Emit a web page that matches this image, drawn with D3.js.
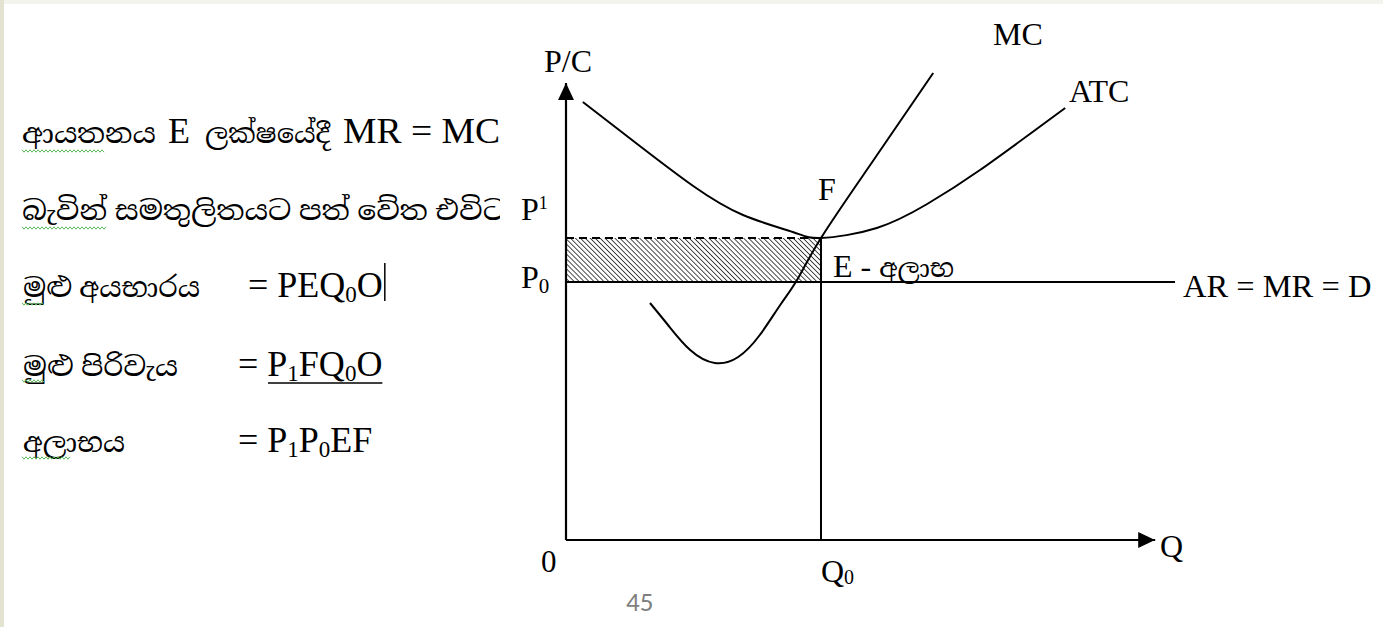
<!DOCTYPE html>
<html>
<head>
<meta charset="utf-8">
<script src="https://cdn.jsdelivr.net/npm/d3@7"></script>
<style>
  body { margin: 0; background: #fff; }
  text { font-family: "Liberation Serif", "Times New Roman", "Noto Serif Sinhala", "Noto Sans Sinhala", "Noto Sans", serif; fill: #000; }
</style>
</head>
<body>
<div id="chart"></div>
<script>
var svgWidth = 1383;
var svgHeight = 627;

// cost curves (Q units, price units)
var atcQ = [2.8, 12.3, 21.2, 29.5, 37.8, 42.5, 51.8, 60.2, 69, 83.2];
var atcC = [87.6, 78.8, 70.8, 65, 61.6, 60.4, 62.4, 67.2, 74, 86.4];
var mcQ = [14, 17, 20.7, 24.8, 28.7, 32.3, 35.7, 38.5, 42.5, 50.7, 61.2];
var mcC = [47.4, 43, 38, 35.4, 36.6, 41, 47, 52, 60.4, 75, 93.4];

var q0 = 42.5;
var p0 = 51.6;
var p1 = 60.4;
var arEnd = 101.5;

var leftLabels = ["ආයතනය", "බැවින් සමතුලිතයට පත් වේත එවිට", "මුළු අයභාරය", "මුළු පිරිවැය", "අලාභය"];

var x = d3.scaleLinear().domain([0, 100]).range([566, 1166]);
var y = d3.scaleLinear().domain([0, 100]).range([540, 40]);

var svg = d3.select("#chart")
  .append("svg")
  .attr("width", svgWidth)
  .attr("height", svgHeight);

var defs = svg.append("defs");

var hatch = defs.append("pattern")
  .attr("id", "hatch")
  .attr("patternUnits", "userSpaceOnUse")
  .attr("width", 3.5)
  .attr("height", 3.5)
  .attr("patternTransform", "rotate(-45)");
hatch.append("line")
  .attr("x1", 0).attr("y1", 0)
  .attr("x2", 0).attr("y2", 3.5)
  .attr("stroke", "#000")
  .attr("stroke-width", 1.4);

defs.append("clipPath").attr("id", "leftclip")
  .append("rect").attr("x", 0).attr("y", 0).attr("width", 500).attr("height", svgHeight);

defs.append("marker")
  .attr("id", "arrow")
  .attr("viewBox", "0 0 10 10")
  .attr("refX", 10).attr("refY", 5)
  .attr("markerWidth", 17).attr("markerHeight", 16)
  .attr("markerUnits", "userSpaceOnUse")
  .attr("orient", "auto")
  .attr("preserveAspectRatio", "none")
  .append("path")
  .attr("d", "M0,0L10,5L0,10Z")
  .attr("fill", "#000");

// slide frame bits
svg.append("rect").attr("x", 0).attr("y", 0).attr("width", svgWidth).attr("height", 4).attr("fill", "#f4f4ef");
svg.append("rect").attr("x", 0).attr("y", 0).attr("width", 4).attr("height", svgHeight).attr("fill", "#e3e3d2");

// hatched loss area
svg.append("rect")
  .attr("x", x(0))
  .attr("y", y(p1))
  .attr("width", x(q0) - x(0))
  .attr("height", y(p0) - y(p1))
  .attr("fill", "url(#hatch)");

// dashed top of loss rectangle
svg.append("line")
  .attr("x1", x(0)).attr("x2", x(q0))
  .attr("y1", y(p1)).attr("y2", y(p1))
  .attr("stroke", "#000").attr("stroke-width", 2)
  .attr("stroke-dasharray", "8,5");

// AR = MR = D
svg.append("line")
  .attr("x1", x(0)).attr("x2", x(arEnd))
  .attr("y1", y(p0)).attr("y2", y(p0))
  .attr("stroke", "#000").attr("stroke-width", 2);

// Q0 drop line
svg.append("line")
  .attr("x1", x(q0)).attr("x2", x(q0))
  .attr("y1", y(p1)).attr("y2", y(0))
  .attr("stroke", "#000").attr("stroke-width", 2);

// axes
svg.append("line")
  .attr("x1", x(0)).attr("x2", x(0))
  .attr("y1", y(0)).attr("y2", y(91.4))
  .attr("stroke", "#000").attr("stroke-width", 2.2)
  .attr("marker-end", "url(#arrow)");
svg.append("line")
  .attr("x1", x(0)).attr("x2", x(98.2))
  .attr("y1", y(0)).attr("y2", y(0))
  .attr("stroke", "#000").attr("stroke-width", 2.2)
  .attr("marker-end", "url(#arrow)");

var line = d3.line()
  .x(d => x(d[0]))
  .y(d => y(d[1]))
  .curve(d3.curveNatural);

svg.append("path")
  .datum(d3.zip(atcQ, atcC))
  .attr("d", line)
  .attr("fill", "none")
  .attr("stroke", "#000")
  .attr("stroke-width", 2);

svg.append("path")
  .datum(d3.zip(mcQ, mcC))
  .attr("d", line)
  .attr("fill", "none")
  .attr("stroke", "#000")
  .attr("stroke-width", 2);

// chart labels
function label(txt, px, py, size) {
  return svg.append("text")
    .attr("x", px).attr("y", py)
    .attr("font-size", size)
    .text(txt);
}
label("P/C", 544, 72, 32);
label("MC", 993, 45, 32);
label("ATC", 1069, 102, 32);
label("F", 818, 200, 32);
var eLbl = svg.append("text").attr("x", 833).attr("y", 277).attr("font-size", 32);
eLbl.append("tspan").text("E - ");
eLbl.append("tspan").attr("font-size", 26).text("අලාභ");
label("AR = MR = D", 1183, 297, 32.5);
label("Q", 1160, 557, 32);
label("0", 541, 572, 31);

var pOne = svg.append("text").attr("x", 521).attr("y", 220).attr("font-size", 32);
pOne.append("tspan").text("P");
pOne.append("tspan").attr("font-size", 18).attr("dy", -11).text("1");

var pZero = svg.append("text").attr("x", 521).attr("y", 288).attr("font-size", 32);
pZero.append("tspan").text("P");
pZero.append("tspan").attr("font-size", 21).attr("dy", 5).text("0");

var qZero = svg.append("text").attr("x", 821).attr("y", 582).attr("font-size", 32);
qZero.append("tspan").text("Q");
qZero.append("tspan").attr("font-size", 20).attr("dy", 2).text("0");

svg.append("text")
  .attr("x", 626).attr("y", 611)
  .attr("font-size", 27)
  .style("font-family", "Carlito, 'Open Sans', sans-serif")
  .style("fill", "#7f7f7f")
  .text("45");

// explanation text on the left
var left = svg.append("g").attr("clip-path", "url(#leftclip)");
var baselines = [143, 220, 297, 376, 452];

function sinhala(txt, x0, x1, by) {
  return left.append("text")
    .attr("x", x0).attr("y", by)
    .attr("font-size", 27)
    .attr("textLength", x1 - x0)
    .attr("lengthAdjust", "spacingAndGlyphs")
    .text(txt);
}

function latin(px, by) {
  return left.append("text").attr("x", px).attr("y", by).attr("font-size", 36);
}

// line 1
sinhala(leftLabels[0], 22, 156, baselines[0]);
latin(168, baselines[0]).text("E");
sinhala("ලක්ෂයේදී", 205, 330, baselines[0]);
latin(343, baselines[0]).attr("textLength", 157).attr("lengthAdjust", "spacingAndGlyphs").text("MR = MC");

// line 2
sinhala(leftLabels[1], 22, 506, baselines[1]);

// line 3
sinhala(leftLabels[2], 23, 200, baselines[2]);
var t3 = latin(248, baselines[2]);
t3.append("tspan").text("= PEQ");
t3.append("tspan").attr("font-size", 23).attr("dy", 5).text("0");
t3.append("tspan").attr("dy", -5).text("O");

// line 4
sinhala(leftLabels[3], 23, 178, baselines[3]);
var t4 = latin(238, baselines[3]);
t4.append("tspan").text("= ");
t4.append("tspan").text("P");
t4.append("tspan").attr("font-size", 23).attr("dy", 5).text("1");
t4.append("tspan").attr("dy", -5).text("FQ");
t4.append("tspan").attr("font-size", 23).attr("dy", 5).text("0");
t4.append("tspan").attr("dy", -5).text("O");

// line 5
sinhala(leftLabels[4], 23, 125, baselines[4]);
var t5 = latin(238, baselines[4]);
t5.append("tspan").text("= P");
t5.append("tspan").attr("font-size", 23).attr("dy", 5).text("1");
t5.append("tspan").attr("dy", -5).text("P");
t5.append("tspan").attr("font-size", 23).attr("dy", 5).text("0");
t5.append("tspan").attr("dy", -5).text("EF");

// underline under P1FQ0O
var bb = t4.node().getBBox();
svg.append("line")
  .attr("x1", 268).attr("x2", bb.x + bb.width)
  .attr("y1", baselines[3] + 7).attr("y2", baselines[3] + 7)
  .attr("stroke", "#000").attr("stroke-width", 1.5);

// text cursor after PEQ0O
var bb3 = t3.node().getBBox();
svg.append("line")
  .attr("x1", bb3.x + bb3.width + 2).attr("x2", bb3.x + bb3.width + 2)
  .attr("y1", baselines[2] - 34).attr("y2", baselines[2] + 4)
  .attr("stroke", "#000").attr("stroke-width", 1.5);

// spell-check squiggles under the first words
var squiggles = [[22, 105, 151], [22, 107, 228], [22, 45, 304], [22, 45, 381], [22, 70, 458]];
squiggles.forEach(function(s) {
  var pts = [];
  for (var px = s[0], k = 0; px <= s[1]; px += 2, k++) {
    pts.push([px, s[2] + (k % 2 ? 1.2 : -1.2)]);
  }
  svg.append("path")
    .attr("d", d3.line()(pts))
    .attr("fill", "none")
    .attr("stroke", "#5cb85c")
    .attr("stroke-width", 1);
});
</script>
</body>
</html>
